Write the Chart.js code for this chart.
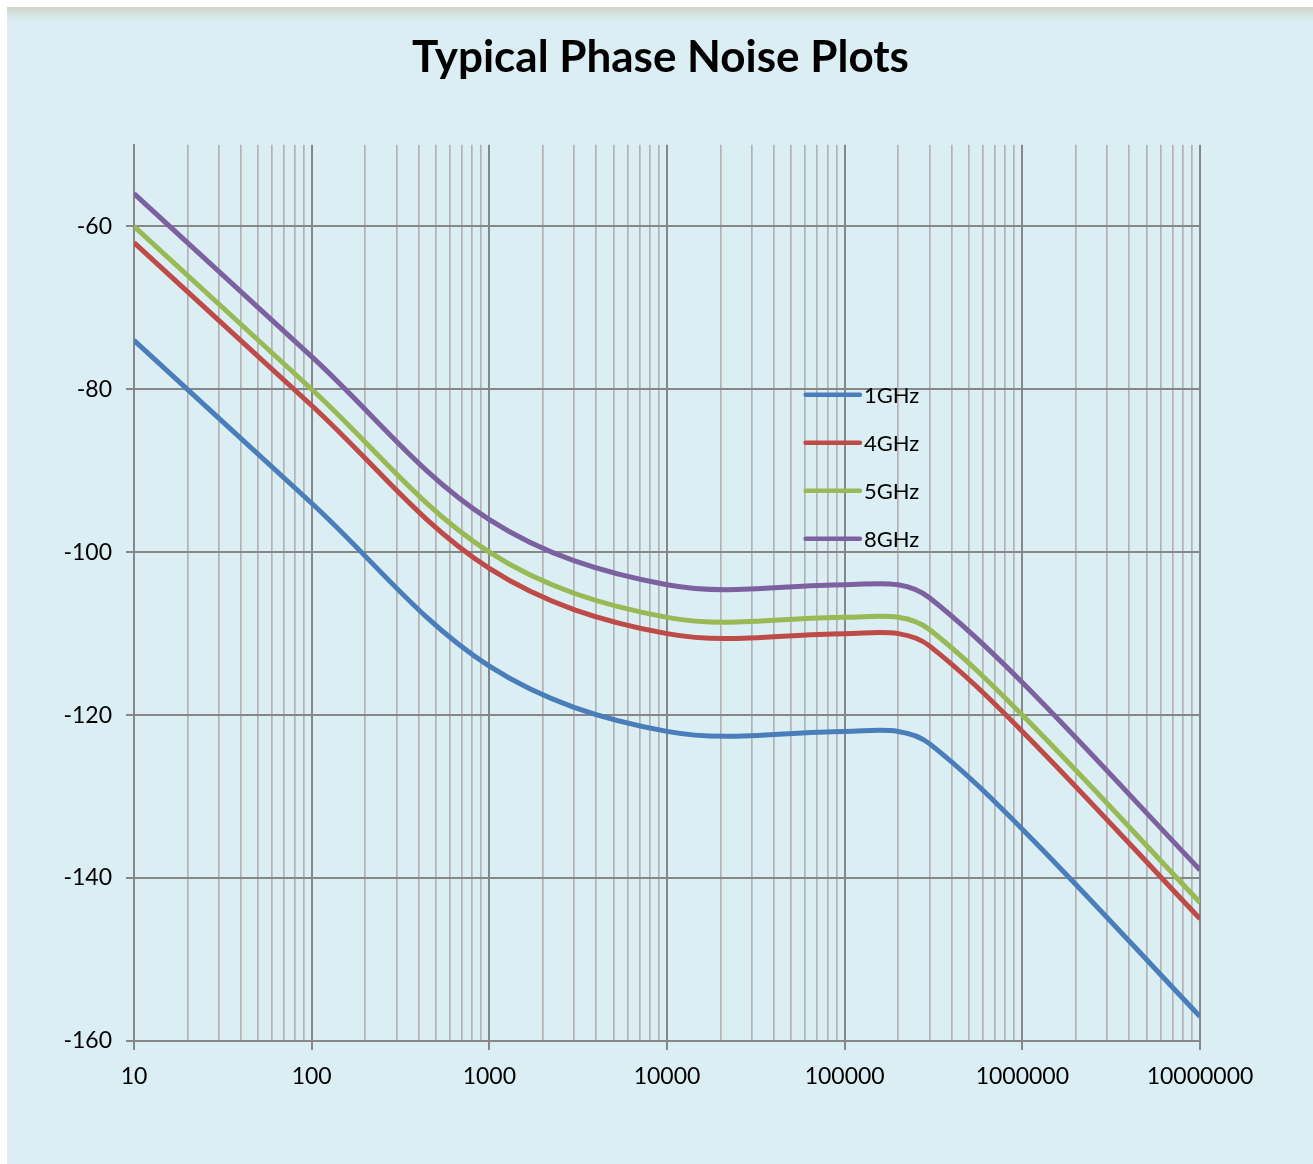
<!DOCTYPE html>
<html>
<head>
<meta charset="utf-8">
<title>Typical Phase Noise Plots</title>
<script src="https://cdn.jsdelivr.net/npm/chart.js@4.4.1/dist/chart.umd.min.js"></script>
<style>
  html, body { margin: 0; padding: 0; background: #ffffff; }
  #panel {
    position: absolute; left: 7px; top: 7px; width: 1306px; height: 1157px;
    background: linear-gradient(to bottom, #cdd4c5 0px, #d5e3e0 7px, #dbeef3 15px);
  }
  #wrap { position: absolute; left: 0; top: 0; width: 1313px; height: 1164px; }
</style>
</head>
<body>
<div id="panel"></div>
<div id="wrap"><canvas id="myChart" width="1313" height="1164"></canvas></div>
<script>
/* data (offset frequency in Hz, phase noise in dBc/Hz) */
const freqs = [10, 100, 1000, 10000, 100000, 200000, 300000, 1000000, 10000000];
const noise1GHz = [-74, -94, -114, -122, -122, -122, -123.5, -134, -157];
const noise4GHz = [-62, -82, -102, -110, -110, -110, -111.5, -122, -145];
const noise5GHz = [-60, -80, -100, -108, -108, -108, -109.5, -120, -143];
const noise8GHz = [-56, -76, -96, -104, -104, -104, -105.6, -116, -139];

const seriesNames = ['1GHz', '4GHz', '5GHz', '8GHz'];
const seriesColors = ['#4a7ebb', '#be4b48', '#98b954', '#7d60a0'];

const yTicks = [-160, -140, -120, -100, -80, -60];
const xDecades = [10, 100, 1000, 10000, 100000, 1000000, 10000000];

// every 1..9 step of each decade, for the log grid
let xTicks = [];
xDecades.forEach(function(d, i) {
    if (i == xDecades.length - 1) { xTicks.push(d); return; }
    for (let k = 1; k <= 9; k++) xTicks.push(k * d);
});

function isDecade(v) {
    const l = Math.log10(v);
    return Math.abs(l - Math.round(l)) < 1e-9;
}

const majorGrey = '#878787';
const minorGrey = '#b3b3b3';
const fontName = 'Lato, "Open Sans", sans-serif';

/*legend drawn inside the plot*/
const insideLegend = {
    id: 'insideLegend',
    afterDatasetsDraw(chart) {
        const ctx = chart.ctx;
        const a = chart.chartArea;
        const x0 = a.left + (a.right - a.left) * 0.630;
        const x1 = a.left + (a.right - a.left) * 0.681;
        let y = a.top + (a.bottom - a.top) * 0.279;
        ctx.save();
        ctx.font = '22px ' + fontName;
        ctx.textBaseline = 'middle';
        ctx.textAlign = 'left';
        chart.data.datasets.forEach(function(ds) {
            ctx.strokeStyle = ds.borderColor;
            ctx.lineWidth = 4.5;
            ctx.lineCap = 'round';
            ctx.beginPath();
            ctx.moveTo(x0, y);
            ctx.lineTo(x1, y);
            ctx.stroke();
            ctx.fillStyle = '#000000';
            ctx.fillText(ds.label, x1 + 4, y + 1);
            y += 48;
        });
        ctx.restore();
    }
};

const seriesData = [noise1GHz, noise4GHz, noise5GHz, noise8GHz];

const ctx = document.getElementById('myChart').getContext('2d');

const chart = new Chart(ctx, {
    type: 'line',
    data: {
        datasets: seriesData.map(function(vals, i) {
            return {
                label: seriesNames[i],
                data: freqs.map(function(f, j) { return {x: f, y: vals[j]}; }),
                borderColor: seriesColors[i],
                backgroundColor: seriesColors[i],
                borderWidth: 5,
                pointRadius: 0,
                tension: 0.35,
                fill: false,
            };
        })
    },
    options: {
        responsive: false,
        animation: false,
        layout: { padding: { left: 8, right: 0, top: 0, bottom: 0 } },
        plugins: {
            legend: { display: false },
            tooltip: { enabled: false },
            title: {
                display: true,
                text: 'Typical Phase Noise Plots',
                color: '#000000',
                font: { family: fontName, size: 44, weight: 'bold' },
                padding: { top: 31, bottom: 61 },
            },
        },
        scales: {
            x: {
                type: 'logarithmic',
                min: 10,
                max: 10000000,
                afterBuildTicks: function(scale) {
                    scale.ticks = xTicks.map(function(v) { return {value: v}; });
                },
                afterFit: function(scale) { scale.height = 123; },
                ticks: {
                    autoSkip: false,
                    maxRotation: 0,
                    padding: 13,
                    color: '#000000',
                    font: { family: fontName, size: 23 },
                    callback: function(value) {
                        return isDecade(value) ? String(Math.round(value)) : '';
                    },
                },
                grid: {
                    color: function(c) { return c.tick && isDecade(c.tick.value) ? majorGrey : minorGrey; },
                    lineWidth: function(c) { return c.tick && isDecade(c.tick.value) ? 2 : 1.7; },
                    tickColor: function(c) { return c.tick && isDecade(c.tick.value) ? majorGrey : 'rgba(0,0,0,0)'; },
                    tickLength: 9,
                    drawTicks: true,
                },
                border: { color: majorGrey, width: 2 },
            },
            y: {
                min: -160,
                max: -50,
                afterBuildTicks: function(scale) {
                    scale.ticks = yTicks.map(function(v) { return {value: v}; });
                },
                afterFit: function(scale) { scale.width = 126; },
                ticks: {
                    padding: 14,
                    color: '#000000',
                    font: { family: fontName, size: 23 },
                },
                grid: {
                    color: majorGrey,
                    lineWidth: 2,
                    tickLength: 8,
                    tickColor: majorGrey,
                },
                border: { color: majorGrey, width: 2 },
            },
            // empty right-hand axis, only keeps the space right of the plot
            yRight: {
                position: 'right',
                afterFit: function(scale) { scale.width = 113; },
                ticks: { display: false },
                grid: { display: false },
                border: { display: false },
            },
        },
    },
    plugins: [insideLegend],
});
</script>
</body>
</html>
